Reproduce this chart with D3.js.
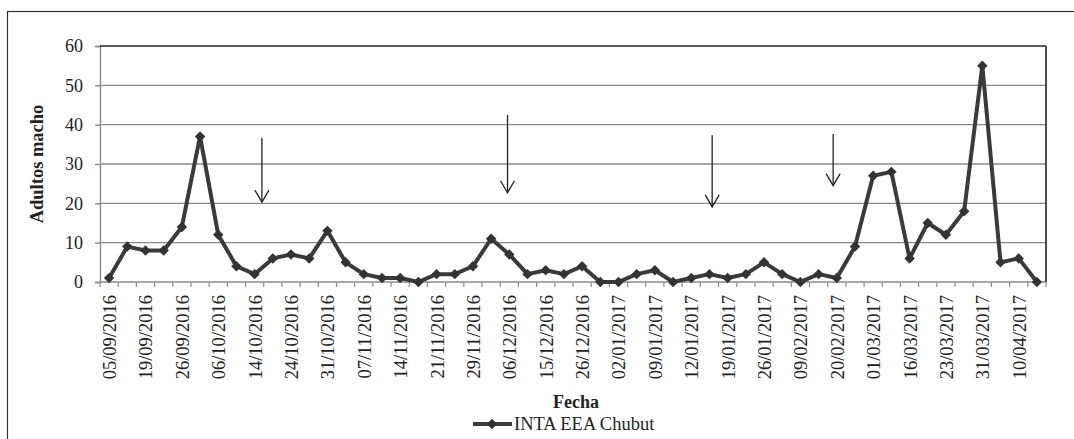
<!DOCTYPE html>
<html><head><meta charset="utf-8">
<script src="https://cdn.jsdelivr.net/npm/d3@7"></script>
<style>body{margin:0;background:#fff}svg{display:block}svg text{font-family:"Times New Roman","Liberation Serif",serif !important;fill:#222}</style>
</head><body><svg id="c" width="1074" height="439" font-family="Times New Roman, serif"></svg>
<script>
const tickLabels = ["05/09/2016","19/09/2016","26/09/2016","06/10/2016","14/10/2016","24/10/2016","31/10/2016","07/11/2016","14/11/2016","21/11/2016","29/11/2016","06/12/2016","15/12/2016","26/12/2016","02/01/2017","09/01/2017","12/01/2017","19/01/2017","26/01/2017","09/02/2017","20/02/2017","01/03/2017","16/03/2017","23/03/2017","31/03/2017","10/04/2017"];
const values = [1,9,8,8,14,37,12,4,2,6,7,6,13,5,2,1,1,0,2,2,4,11,7,2,3,2,4,0,0,2,3,0,1,2,1,2,5,2,0,2,1,9,27,28,6,15,12,18,55,5,6,0];
const yTicks = [0,10,20,30,40,50,60];
// arrows: [category position (index), top value, bottom value]
const arrowX = [8.4, 21.9, 33.15, 39.8];
const arrowTop = [36.7, 42.5, 37.3, 37.6];
const arrowBottom = [20.3, 22.7, 19.1, 24.5];
const seriesName = "INTA EEA Chubut";

const svg = d3.select("#c");
const L=100, R=1046, T=46, B=282;
const idx = d3.range(values.length);
const x = d3.scaleBand().domain(idx).range([L,R]);
const xc = i => x(i)+x.bandwidth()/2;
const xp = d3.scaleLinear().domain([0, values.length]).range([L,R]);
const y = d3.scaleLinear().domain([0,60]).range([B,T]);

// outer frame
svg.append("rect").attr("x",7.5).attr("y",11.5).attr("width",1080).attr("height",440).attr("fill","none").attr("stroke","#333").attr("stroke-width",1.2);

// gridlines
svg.append("g").selectAll("line").data(yTicks.filter(d=>d>0&&d<60)).join("line")
 .attr("x1",L).attr("x2",R).attr("y1",d=>y(d)).attr("y2",d=>y(d)).attr("stroke","#8a8a8a").attr("stroke-width",1.4);

// y axis
const ya = svg.append("g").attr("transform",`translate(${L},0)`).call(d3.axisLeft(y).tickValues(yTicks).tickSize(5).tickPadding(12));
ya.attr("font-family","Times New Roman, serif");
ya.select(".domain").attr("stroke","#8a8a8a").attr("stroke-width",1.4);
ya.selectAll(".tick line").attr("stroke","#8a8a8a").attr("stroke-width",1.4);
ya.selectAll("text").attr("font-size",18).attr("fill","#222");

// x axis baseline and ticks at category boundaries
svg.append("line").attr("x1",L).attr("x2",R).attr("y1",y(0)).attr("y2",y(0)).attr("stroke","#8a8a8a").attr("stroke-width",1.4);
svg.append("g").selectAll("line").data(d3.range(values.length+1)).join("line")
 .attr("x1",d=>xp(d)).attr("x2",d=>xp(d)).attr("y1",y(0)).attr("y2",y(0)+5).attr("stroke","#8a8a8a").attr("stroke-width",1.2);
svg.append("g").selectAll("text").data(tickLabels).join("text")
 .attr("transform",(d,i)=>`translate(${xc(i*2)+7},${y(0)+13}) rotate(-90)`)
 .attr("text-anchor","end").attr("font-size",18.5).text(d=>d);

// plot border top and right
svg.append("line").attr("x1",L).attr("x2",R).attr("y1",T).attr("y2",T).attr("stroke","#222").attr("stroke-width",1.6);
svg.append("line").attr("x1",R).attr("x2",R).attr("y1",T).attr("y2",B).attr("stroke","#222").attr("stroke-width",1.6);

// line series
const line = d3.line().x((d,i)=>xc(i)).y(d=>y(d));
svg.append("path").datum(values).attr("d",line).attr("fill","none").attr("stroke","#3a3a3a").attr("stroke-width",4).attr("stroke-linejoin","round");
const diamond = d3.symbol().type(d3.symbolDiamond2).size(70);
svg.append("g").selectAll("path").data(values).join("path")
 .attr("transform",(d,i)=>`translate(${xc(i)},${y(d)})`).attr("d",diamond).attr("fill","#333");

// arrows
const ag = svg.append("g").attr("stroke","#222").attr("stroke-width",1.3).attr("fill","none");
arrowX.forEach((a,k)=>{
  const ax = xp(a+0.5), y1=y(arrowTop[k]), y2=y(arrowBottom[k]);
  ag.append("line").attr("x1",ax).attr("x2",ax).attr("y1",y1).attr("y2",y2);
  ag.append("path").attr("d",`M${ax-7},${y2-12}L${ax},${y2}L${ax+7},${y2-12}`);
});

// titles
svg.append("text").attr("transform",`translate(43,${(T+B)/2}) rotate(-90)`).attr("text-anchor","middle").attr("font-weight","bold").attr("font-size",18.5).text("Adultos macho");
svg.append("text").attr("x",576).attr("y",408).attr("text-anchor","middle").attr("font-weight","bold").attr("font-size",18).text("Fecha");

// legend
const lg = svg.append("g");
lg.append("line").attr("x1",473).attr("x2",512).attr("y1",424).attr("y2",424).attr("stroke","#3a3a3a").attr("stroke-width",4);
lg.append("path").attr("transform","translate(492,424)").attr("d",diamond).attr("fill","#333");
lg.append("text").attr("x",514).attr("y",430).attr("font-size",18.5).text(seriesName);
</script></body></html>
